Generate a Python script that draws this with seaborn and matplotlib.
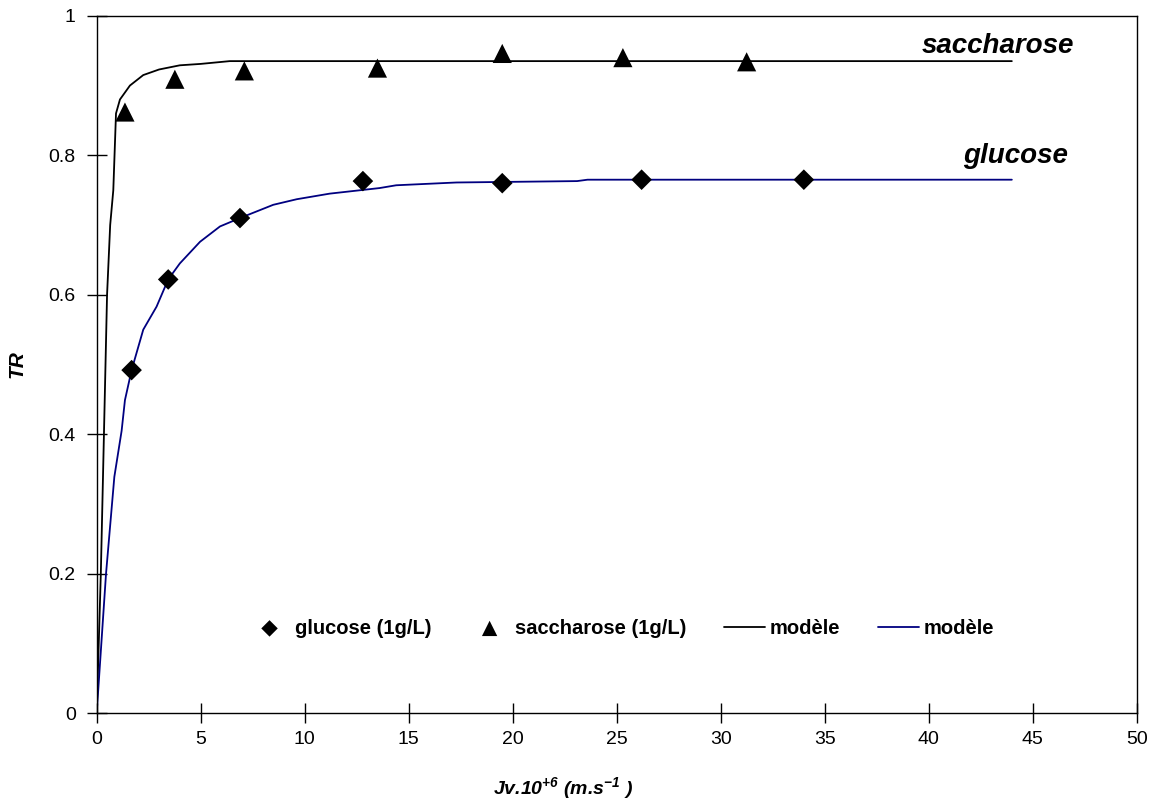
import seaborn as sns
import matplotlib.pyplot as plt
from matplotlib.ticker import FuncFormatter, MultipleLocator

# measured points
glu_x = [1.68, 3.44, 6.89, 12.8, 19.5, 26.2, 34.0]
glu_y = [0.492, 0.622, 0.710, 0.763, 0.760, 0.765, 0.765]
sac_x = [1.36, 3.76, 7.10, 13.5, 19.5, 25.3, 31.25]
sac_y = [0.862, 0.909, 0.921, 0.925, 0.946, 0.940, 0.934]

# model curves
mod_sac_x = [0, 0.2, 0.35, 0.5, 0.65, 0.8, 0.93, 1.12, 1.6, 2.24, 3.0, 4.0, 5.0, 6.4, 44]
mod_sac_y = [0, 0.2, 0.4, 0.6, 0.7, 0.75, 0.86, 0.88, 0.90, 0.915, 0.923, 0.929, 0.931, 0.935, 0.935]
mod_glu_x = [0, 0.45, 0.85, 1.2, 1.36, 1.68, 2.24, 2.88, 3.44, 4.0, 4.97, 5.93, 6.89, 8.49,
             9.62, 11.2, 13.6, 14.4, 17.3, 23.1, 23.6, 44]
mod_glu_y = [0, 0.2, 0.339, 0.405, 0.449, 0.492, 0.55, 0.583, 0.622, 0.645, 0.676, 0.698, 0.710,
             0.729, 0.737, 0.745, 0.753, 0.757, 0.761, 0.763, 0.765, 0.765]

sns.set_style("white")
plt.rcParams['font.family'] = ['Liberation Sans', 'DejaVu Sans']
plt.rcParams['text.color'] = 'black'
plt.rcParams['axes.labelcolor'] = 'black'
plt.rcParams['mathtext.fontset'] = 'custom'
plt.rcParams['mathtext.rm'] = 'Liberation Sans:bold:italic'
plt.rcParams['mathtext.it'] = 'Liberation Sans:bold:italic'
plt.rcParams['mathtext.bf'] = 'Liberation Sans:bold:italic'

fig = plt.figure(figsize=(11.59, 8.01), dpi=100)
ax = fig.add_axes([0.0834, 0.1095, 0.8973, 0.8708])

sns.lineplot(x=mod_sac_x, y=mod_sac_y, ax=ax, color='black', lw=1.3, label='modèle',
             estimator=None, sort=False, zorder=2)
sns.lineplot(x=mod_glu_x, y=mod_glu_y, ax=ax, color='#000080', lw=1.3, label='modèle ',
             estimator=None, sort=False, zorder=2)
sns.scatterplot(x=glu_x, y=glu_y, ax=ax, marker='D', s=110, color='black', edgecolor='none',
                label='glucose (1g/L)', zorder=3)
sns.scatterplot(x=sac_x, y=sac_y, ax=ax, marker='^', s=190, color='black', edgecolor='none',
                label='saccharose (1g/L)', zorder=3)

ax.set_xlim(0, 50)
ax.set_ylim(0, 1)
ax.xaxis.set_major_locator(MultipleLocator(5))
ax.yaxis.set_major_locator(MultipleLocator(0.2))
ax.yaxis.set_major_formatter(FuncFormatter(lambda v, p: '%g' % round(v, 2)))
ax.tick_params(axis='y', direction='inout', length=14, width=1, labelsize=14, colors='black', pad=8, left=True)
ax.tick_params(axis='x', direction='inout', length=14, width=1, labelsize=14, colors='black', pad=6, bottom=True)

for sp in ax.spines.values():
    sp.set_visible(True)
    sp.set_color('black')
    sp.set_linewidth(1.0)

ax.set_xlabel('Jv.10$^{+6}$ (m.s$^{-1}$ )', fontsize=14, fontweight='bold', fontstyle='italic')
ax.xaxis.set_label_coords(0.448, -0.088)
ax.set_ylabel('TR', fontsize=15, fontweight='bold', fontstyle='italic')
ax.yaxis.set_label_coords(-0.067, 0.5)

ax.text(43.33, 0.947, 'saccharose', fontsize=20, fontweight='bold', fontstyle='italic',
        ha='center', va='baseline')
ax.text(44.2, 0.789, 'glucose', fontsize=20, fontweight='bold', fontstyle='italic',
        ha='center', va='baseline')

h, l = ax.get_legend_handles_labels()
order = [2, 3, 0, 1]
leg = ax.legend([h[i] for i in order], ['glucose (1g/L)', 'saccharose (1g/L)', 'modèle', 'modèle'],
                loc='center', bbox_to_anchor=(0.505, 0.122), ncol=4, frameon=False,
                prop={'weight': 'bold', 'size': 14.5}, handlelength=2.0, handletextpad=0.25,
                columnspacing=1.9, markerscale=0.8)

fig.savefig('out.png', dpi=100)
